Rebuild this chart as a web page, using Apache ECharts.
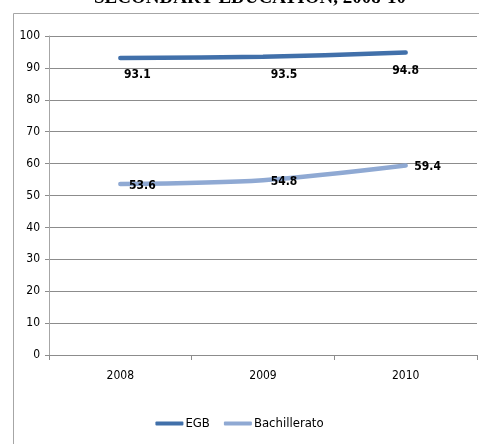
<!DOCTYPE html>
<html><head><meta charset="utf-8">
<script src="https://cdn.jsdelivr.net/npm/echarts@6/dist/echarts.min.js"></script>
<style>html,body{margin:0;padding:0;background:#fff}#c{width:479px;height:444px}</style>
</head><body><div id="c"></div>
<script>
const titleText = "SECONDARY EDUCATION, 2008-10";
const categories = ["2008", "2009", "2010"];
const egb = [93.1, 93.5, 94.8];
const bachillerato = [53.6, 54.8, 59.4];
const yTicks = [0, 10, 20, 30, 40, 50, 60, 70, 80, 90, 100];

const egbLabelOffsets = [[17, 17], [21, 18], [0, 18]];
const bachLabelOffsets = [[22, 2], [21, 2], [22, 1]];

const FONT = "'Liberation Sans Narrow', 'DejaVu Sans Condensed', sans-serif";
const EGB_COLOR = '#4170AA';
const BACH_COLOR = '#8FA9D3';

function withLabels(vals, offs) {
  return vals.map((v, i) => ({ value: v, label: { offset: offs[i] } }));
}

const chart = echarts.init(document.getElementById('c'), null, { renderer: 'canvas' });
chart.setOption({
  animation: false,
  backgroundColor: '#fff',
  graphic: [
    { type: 'rect', shape: { x: 13.5, y: 13.5, width: 480, height: 450 }, style: { fill: 'none', stroke: '#A6A6A6', lineWidth: 1 }, z: -1 },
    { type: 'text', left: 94, top: -11, style: { text: titleText, font: "bold 19px 'Liberation Serif', serif", fill: '#000' } }
  ],
  grid: { left: 49, right: 2, top: 36, bottom: 89 },
  legend: {
    bottom: 9, left: 'center',
    itemWidth: 28, itemHeight: 4, itemGap: 14,
    icon: 'roundRect',
    textStyle: { fontFamily: FONT, fontSize: 13, color: '#000', padding: [0, 0, 0, -3] },
    data: [
      { name: 'EGB', itemStyle: { color: EGB_COLOR, opacity: 1 } },
      { name: 'Bachillerato', itemStyle: { color: BACH_COLOR, opacity: 1 } }
    ]
  },
  xAxis: {
    type: 'category', data: categories, boundaryGap: true,
    axisLine: { lineStyle: { color: '#8C8C8C' } },
    axisTick: { show: true, length: 5, lineStyle: { color: '#8C8C8C' } },
    axisLabel: { fontFamily: FONT, fontSize: 12, color: '#000', margin: 15 }
  },
  yAxis: {
    type: 'value', min: 0, max: 100, interval: 10,
    axisLine: { show: true, lineStyle: { color: '#A6A6A6' } },
    axisTick: { show: true, length: 4, lineStyle: { color: '#8C8C8C' } },
    axisLabel: { fontFamily: FONT, fontSize: 12, color: '#000', margin: 9,
      formatter: v => yTicks.includes(v) ? String(v) : '' },
    splitLine: { lineStyle: { color: '#8C8C8C', width: 1 } }
  },
  series: [
    { name: 'EGB', type: 'line', data: withLabels(egb, egbLabelOffsets), smooth: 0.3,
      symbol: 'circle', symbolSize: 1, showSymbol: true,
      itemStyle: { color: 'rgba(0,0,0,0)', borderWidth: 0 },
      lineStyle: { width: 4.5, color: EGB_COLOR, cap: 'round' },
      label: { show: true, position: 'inside', fontFamily: FONT, fontWeight: 'bold', fontSize: 12, color: '#000' } },
    { name: 'Bachillerato', type: 'line', data: withLabels(bachillerato, bachLabelOffsets), smooth: 0.3,
      symbol: 'circle', symbolSize: 1, showSymbol: true,
      itemStyle: { color: 'rgba(0,0,0,0)', borderWidth: 0 },
      lineStyle: { width: 4.5, color: BACH_COLOR, cap: 'round' },
      label: { show: true, position: 'inside', fontFamily: FONT, fontWeight: 'bold', fontSize: 12, color: '#000' } }
  ]
});
</script></body></html>
